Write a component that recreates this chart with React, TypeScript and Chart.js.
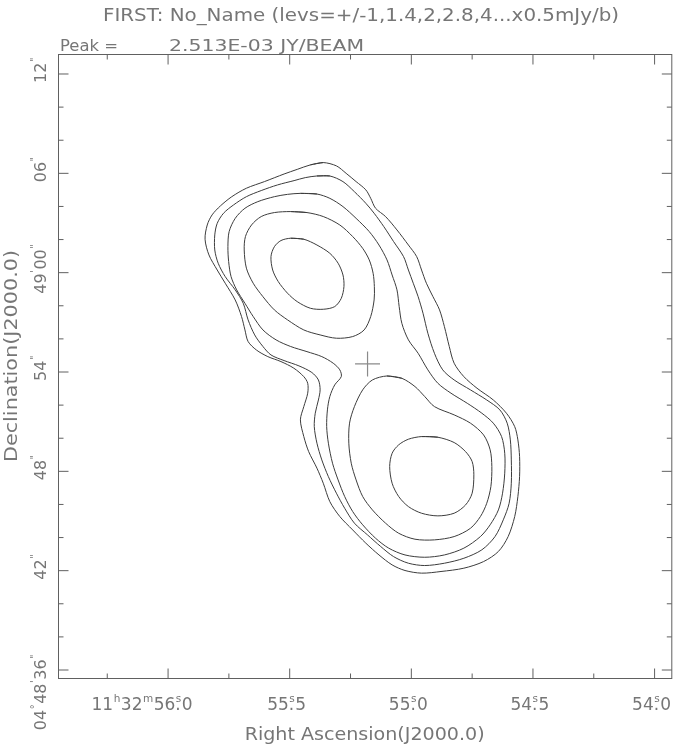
import React, { useEffect, useRef } from "react";
import { Chart, registerables } from "chart.js";

Chart.register(...registerables);

// ---------- text ----------
const TITLE = "FIRST: No_Name (levs=+/-1,1.4,2,2.8,4...x0.5mJy/b)";
const PEAK_LABEL = "Peak =";
const PEAK_VALUE = "2.513E-03 JY/BEAM";
const X_TITLE = "Right Ascension(J2000.0)";
const Y_TITLE = "Declination(J2000.0)";

// ---------- axes (RA in seconds of 11h32m, Dec in arcsec after +04d48m) ----------
const RA_RANGE = [53.9313, 56.4525];
const DEC_RANGE = [35.517, 73.208];
const raMajor = [56.0, 55.5, 55.0, 54.5, 54.0];
const raMinor = [56.25, 55.75, 55.25, 54.75, 54.25];
const raLabels = ["11h32m56s.0", "55s.5", "55s.0", "54s.5", "54s.0"];
const decMajor = [36, 42, 48, 54, 60, 66, 72];
const decMinor = [38, 40, 44, 46, 50, 52, 56, 58, 62, 64, 68, 70];
const decLabels = ["04°48'36\"", "42\"", "48\"", "54\"", "49'00\"", "06\"", "12\""];

// ---------- source ----------
const peakPosition = [55.18, 54.49];

// contour levels 0.5, 0.7, 1.0, 1.4, 2.0 mJy/beam  ([RA s, Dec "])
const contourLevel1 = [
  [55.415, 66.51], [55.362, 66.65], [55.308, 66.45], [55.268, 66.0], [55.227, 65.5], [55.187, 65.0],
  [55.167, 64.49], [55.147, 63.89], [55.106, 63.39], [55.059, 62.58], [55.012, 61.67], [54.978, 60.97],
  [54.958, 60.16], [54.938, 59.36], [54.911, 58.55], [54.884, 57.75], [54.864, 56.74], [54.844, 55.54],
  [54.824, 54.53], [54.784, 53.72], [54.73, 53.02], [54.663, 52.31], [54.609, 51.51], [54.575, 50.7],
  [54.562, 49.9], [54.555, 48.89], [54.555, 47.68], [54.562, 46.48], [54.575, 45.27], [54.602, 44.06],
  [54.642, 43.16], [54.703, 42.55], [54.784, 42.15], [54.878, 41.95], [54.958, 41.85], [55.026, 42.01],
  [55.079, 42.35], [55.133, 42.95], [55.187, 43.66], [55.241, 44.46], [55.294, 45.27], [55.335, 46.17],
  [55.362, 47.28], [55.388, 48.19], [55.422, 49.19], [55.442, 50.1], [55.456, 51.11], [55.442, 51.91],
  [55.426, 52.72], [55.426, 53.32], [55.442, 53.72], [55.483, 54.23], [55.536, 54.63], [55.59, 54.93],
  [55.637, 55.33], [55.671, 55.84], [55.684, 56.54], [55.698, 57.35], [55.724, 58.35], [55.765, 59.36],
  [55.798, 60.16], [55.832, 61.07], [55.848, 62.02], [55.839, 62.88], [55.819, 63.49], [55.785, 64.03],
  [55.738, 64.59], [55.678, 65.1], [55.604, 65.5], [55.523, 65.96], [55.469, 66.24],
];
const contourLevel2 = [
  [55.388, 65.84], [55.335, 65.84], [55.281, 65.5], [55.234, 64.89], [55.187, 64.19], [55.153, 63.59],
  [55.113, 62.78], [55.073, 61.88], [55.032, 60.97], [55.012, 60.16], [54.992, 59.36], [54.972, 58.55],
  [54.952, 57.55], [54.932, 56.34], [54.905, 55.13], [54.871, 54.13], [54.824, 53.52], [54.757, 52.92],
  [54.69, 52.31], [54.636, 51.71], [54.606, 50.91], [54.593, 49.9], [54.589, 48.69], [54.589, 47.28],
  [54.598, 46.07], [54.622, 45.07], [54.656, 44.06], [54.71, 43.26], [54.784, 42.75], [54.864, 42.45],
  [54.945, 42.31], [55.012, 42.45], [55.073, 42.85], [55.126, 43.46], [55.18, 44.16], [55.234, 44.87],
  [55.274, 45.77], [55.308, 46.68], [55.341, 47.68], [55.368, 48.69], [55.388, 49.7], [55.399, 50.7],
  [55.395, 51.51], [55.382, 52.31], [55.375, 52.92], [55.382, 53.52], [55.409, 53.97], [55.462, 54.37],
  [55.523, 54.69], [55.577, 55.03], [55.61, 55.54], [55.644, 56.24], [55.671, 57.15], [55.691, 58.15],
  [55.724, 58.96], [55.765, 59.76], [55.794, 60.57], [55.808, 61.37], [55.808, 62.28], [55.798, 62.98],
  [55.772, 63.59], [55.731, 64.09], [55.678, 64.59], [55.617, 64.96], [55.55, 65.3], [55.482, 65.56],
  [55.436, 65.74],
];
const contourLevel3 = [
  [55.456, 64.79], [55.388, 64.75], [55.335, 64.49], [55.281, 63.99], [55.227, 63.28], [55.173, 62.48],
  [55.133, 61.67], [55.1, 60.77], [55.079, 59.86], [55.059, 58.96], [55.05, 57.95], [55.039, 56.94],
  [55.012, 55.94], [54.972, 55.13], [54.932, 54.13], [54.891, 53.32], [54.837, 52.72], [54.77, 52.11],
  [54.71, 51.51], [54.663, 50.91], [54.629, 50.1], [54.616, 49.09], [54.616, 47.89], [54.625, 46.68],
  [54.642, 45.67], [54.676, 44.77], [54.716, 44.06], [54.784, 43.36], [54.864, 42.95], [54.945, 42.81],
  [55.026, 42.95], [55.093, 43.36], [55.147, 43.96], [55.2, 44.77], [55.241, 45.57], [55.274, 46.48],
  [55.301, 47.48], [55.324, 48.49], [55.341, 49.7], [55.348, 50.7], [55.345, 51.71], [55.335, 52.52],
  [55.315, 53.22], [55.288, 53.72], [55.294, 54.13], [55.321, 54.53], [55.368, 54.93], [55.429, 55.23],
  [55.496, 55.54], [55.556, 55.94], [55.61, 56.54], [55.65, 57.35], [55.684, 58.15], [55.718, 58.96],
  [55.741, 59.76], [55.751, 60.67], [55.754, 61.57], [55.749, 62.48], [55.724, 63.28], [55.684, 63.89],
  [55.631, 64.29], [55.563, 64.59], [55.509, 64.73],
];
const contourLevel4North = [
  [55.496, 63.69], [55.429, 63.63], [55.362, 63.39], [55.294, 62.88], [55.241, 62.18], [55.2, 61.47],
  [55.173, 60.77], [55.157, 59.96], [55.152, 59.16], [55.153, 58.35], [55.167, 57.35], [55.194, 56.54],
  [55.241, 56.14], [55.308, 56.04], [55.375, 56.24], [55.442, 56.54], [55.509, 57.15], [55.563, 57.75],
  [55.61, 58.55], [55.65, 59.36], [55.678, 60.27], [55.687, 61.37], [55.682, 62.18], [55.657, 62.88],
  [55.617, 63.39], [55.563, 63.63],
];
const contourLevel4South = [
  [55.1, 53.76], [55.039, 53.62], [54.985, 53.12], [54.945, 52.52], [54.905, 51.91], [54.824, 51.41],
  [54.757, 50.91], [54.703, 50.2], [54.676, 49.3], [54.669, 48.29], [54.673, 47.08], [54.69, 46.07],
  [54.716, 45.27], [54.757, 44.56], [54.824, 44.06], [54.905, 43.86], [54.985, 43.9], [55.052, 44.26],
  [55.106, 44.87], [55.16, 45.67], [55.2, 46.48], [55.227, 47.48], [55.247, 48.49], [55.257, 49.7],
  [55.254, 50.91], [55.234, 51.91], [55.2, 52.92], [55.16, 53.52],
];
const contourLevel5North = [
  [55.496, 62.08], [55.442, 62.02], [55.388, 61.67], [55.335, 61.17], [55.301, 60.57], [55.281, 59.86],
  [55.277, 59.16], [55.288, 58.45], [55.315, 57.95], [55.362, 57.79], [55.415, 57.85], [55.469, 58.25],
  [55.509, 58.76], [55.547, 59.46], [55.57, 60.16], [55.577, 60.97], [55.563, 61.57], [55.536, 61.94],
];
const contourLevel5South = [
  [54.958, 50.1], [54.891, 50.06], [54.824, 49.74], [54.777, 49.19], [54.75, 48.59], [54.743, 47.79],
  [54.75, 46.68], [54.777, 45.97], [54.824, 45.47], [54.891, 45.31], [54.958, 45.47], [55.012, 45.87],
  [55.052, 46.48], [55.079, 47.28], [55.089, 48.29], [55.079, 49.09], [55.052, 49.6], [55.012, 49.94],
];
const contours = [
  contourLevel1, contourLevel2, contourLevel3,
  contourLevel4North, contourLevel4South, contourLevel5North, contourLevel5South,
];

// ---------- style ----------
const FONT = '"DejaVu Sans", "Liberation Sans", sans-serif';
const TEXT_COLOR = "#767676";
const FRAME_COLOR = "#606060";
const LINE_COLOR = "#3c3c3c";
const SUP_CHARS = "hms°'\"";

type Part = { t: string; sup: boolean; dot?: boolean };

function parseLabel(label: string): Part[] {
  const parts: Part[] = [];
  const chars = Array.from(label);
  for (let i = 0; i < chars.length; i++) {
    const c = chars[i];
    if (SUP_CHARS.includes(c)) {
      const p: Part = { t: c, sup: true };
      if (chars[i + 1] === ".") {
        p.dot = true;
        i++;
      }
      parts.push(p);
    } else {
      const last = parts[parts.length - 1];
      if (last && !last.sup) last.t += c;
      else parts.push({ t: c, sup: false });
    }
  }
  return parts;
}

function partWidth(ctx: CanvasRenderingContext2D, p: Part, size: number) {
  ctx.font = `${p.sup ? size * 0.62 : size}px ${FONT}`;
  let w = ctx.measureText(p.t).width;
  if (p.dot) {
    ctx.font = `${size}px ${FONT}`;
    w = Math.max(w, ctx.measureText(".").width);
  }
  return w + (p.sup ? 1 : 0);
}

function labelWidth(ctx: CanvasRenderingContext2D, parts: Part[], size: number) {
  return parts.reduce((s, p) => s + partWidth(ctx, p, size), 0);
}

function drawLabel(ctx: CanvasRenderingContext2D, parts: Part[], size: number, x0: number, y0: number) {
  let x = x0;
  for (const p of parts) {
    const w = partWidth(ctx, p, size);
    if (p.dot) {
      ctx.font = `${size}px ${FONT}`;
      ctx.fillText(".", x, y0);
    }
    ctx.font = `${p.sup ? size * 0.62 : size}px ${FONT}`;
    ctx.fillText(p.t, x + (p.sup ? 0.5 : 0), p.sup ? y0 - size * 0.48 : y0);
    x += w;
  }
}

function drawStretched(
  ctx: CanvasRenderingContext2D,
  text: string,
  size: number,
  x: number,
  y: number,
  width: number,
  align: "left" | "center"
) {
  ctx.font = `${size}px ${FONT}`;
  const w = ctx.measureText(text).width;
  const k = width / w;
  ctx.save();
  const left = align === "center" ? x - width / 2 : x;
  ctx.translate(left, y);
  ctx.scale(k, 1);
  ctx.textAlign = "left";
  ctx.fillText(text, 0, 0);
  ctx.restore();
}

const pgFrame = {
  id: "pgFrame",
  afterDraw(chart: any) {
    const { ctx, chartArea: a } = chart;
    const xs = chart.scales.x;
    const ys = chart.scales.y;
    ctx.save();
    ctx.strokeStyle = FRAME_COLOR;
    ctx.lineWidth = 1;
    ctx.strokeRect(a.left + 0.5, a.top + 0.5, a.right - a.left, a.bottom - a.top);

    const tick = (px: number, len: number, horiz: boolean) => {
      ctx.beginPath();
      if (horiz) {
        ctx.moveTo(px, a.bottom + 0.5);
        ctx.lineTo(px, a.bottom + 0.5 - len);
        ctx.moveTo(px, a.top + 0.5);
        ctx.lineTo(px, a.top + 0.5 + len);
      } else {
        ctx.moveTo(a.left + 0.5, px);
        ctx.lineTo(a.left + 0.5 + len, px);
        ctx.moveTo(a.right + 0.5, px);
        ctx.lineTo(a.right + 0.5 - len, px);
      }
      ctx.stroke();
    };
    raMajor.forEach((v) => tick(xs.getPixelForValue(v), 10, true));
    raMinor.forEach((v) => tick(xs.getPixelForValue(v), 5, true));
    decMajor.forEach((v) => tick(ys.getPixelForValue(v), 10, false));
    decMinor.forEach((v) => tick(ys.getPixelForValue(v), 5, false));

    ctx.fillStyle = TEXT_COLOR;
    ctx.textBaseline = "alphabetic";
    ctx.textAlign = "left";

    // titles
    drawStretched(ctx, TITLE, 17, 103, 21, 516, "left");
    drawStretched(ctx, PEAK_LABEL, 15, 60, 51, 58, "left");
    drawStretched(ctx, PEAK_VALUE, 15, 169, 51, 195, "left");
    drawStretched(ctx, X_TITLE, 17, (a.left + a.right) / 2, 740, 240, "center");
    ctx.save();
    ctx.translate(17, 356);
    ctx.rotate(-Math.PI / 2);
    drawStretched(ctx, Y_TITLE, 17, 0, 0, 212, "center");
    ctx.restore();

    // RA labels
    const xSize = 17;
    raLabels.forEach((lab, i) => {
      const parts = parseLabel(lab);
      const w = labelWidth(ctx, parts, xSize);
      const px = xs.getPixelForValue(raMajor[i]);
      const center = i === 0 ? px - 26 : px - 3;
      drawLabel(ctx, parts, xSize, center - w / 2, a.bottom + 32);
    });

    // Dec labels (rotated, reading upward)
    const ySize = 16;
    decLabels.forEach((lab, i) => {
      const parts = parseLabel(lab);
      const w = labelWidth(ctx, parts, ySize);
      const py = ys.getPixelForValue(decMajor[i]);
      const center = i === 0 ? py + 22 : py - 4;
      ctx.save();
      ctx.translate(a.left - 12, center);
      ctx.rotate(-Math.PI / 2);
      drawLabel(ctx, parts, ySize, -w / 2, 0);
      ctx.restore();
    });
    ctx.restore();
  },
};

export default function App() {
  const ref = useRef<HTMLCanvasElement | null>(null);
  useEffect(() => {
    if (!ref.current) return;
    const datasets: any[] = contours.map((c) => ({
      data: [...c, c[0], c[1]].map(([x, y]) => ({ x, y })),
      showLine: true,
      borderColor: LINE_COLOR,
      borderWidth: 1,
      pointRadius: 0,
      tension: 0.3,
      fill: false,
    }));
    datasets.push({
      data: [{ x: peakPosition[0], y: peakPosition[1] }],
      showLine: false,
      pointStyle: "cross",
      pointRadius: 12.5,
      borderColor: "#8a8a8a",
      borderWidth: 1.2,
    });
    const chart = new Chart(ref.current, {
      type: "scatter",
      data: { datasets },
      options: {
        animation: false,
        responsive: false,
        events: [],
        layout: { padding: { left: 58, right: 3, top: 54, bottom: 68 } },
        plugins: { legend: { display: false }, tooltip: { enabled: false }, title: { display: false } },
        scales: {
          x: { type: "linear", min: RA_RANGE[0], max: RA_RANGE[1], reverse: true, display: false },
          y: { type: "linear", min: DEC_RANGE[0], max: DEC_RANGE[1], display: false },
        },
      },
      plugins: [pgFrame],
    });
    return () => chart.destroy();
  }, []);
  return (
    <div style={{ position: "absolute", left: 0, top: 0, width: 685, height: 746, background: "#fff" }}>
      <canvas ref={ref} width={685} height={746} style={{ display: "block" }} />
    </div>
  );
}
